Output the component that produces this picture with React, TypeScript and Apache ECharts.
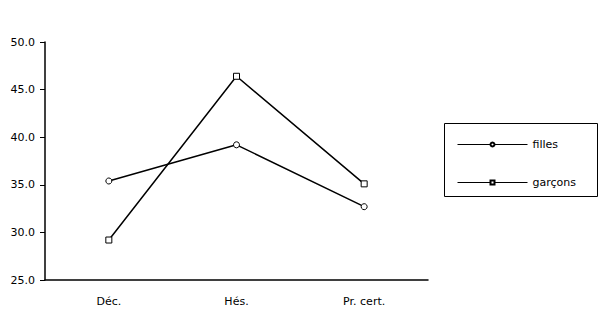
import React, { useEffect, useRef } from "react";
import * as echarts from "echarts";

const categories = ["Déc.", "Hés.", "Pr. cert."];
const filles = [35.4, 39.2, 32.7];
const garcons = [29.2, 46.4, 35.1];
const yMin = 25;
const yMax = 50;
const yInterval = 5;

export default function App() {
  const ref = useRef<HTMLDivElement>(null);
  useEffect(() => {
    if (!ref.current) return;
    const chart = echarts.init(ref.current, undefined, { renderer: "svg" });
    const font = "DejaVu Sans, Arial, sans-serif";
    chart.setOption({
      animation: false,
      backgroundColor: "#fff",
      textStyle: { fontFamily: font },
      grid: { left: 45, top: 42, right: 186, bottom: 47 },
      xAxis: {
        type: "category",
        data: categories,
        boundaryGap: true,
        axisLine: { lineStyle: { color: "#000", width: 1.5 } },
        axisTick: { show: false },
        axisLabel: { color: "#000", fontSize: 11, fontFamily: font, margin: 16 },
      },
      yAxis: {
        type: "value",
        min: yMin,
        max: yMax,
        interval: yInterval,
        axisLine: { show: true, lineStyle: { color: "#000", width: 1.5 } },
        axisTick: { show: true, length: 5, lineStyle: { color: "#000" } },
        splitLine: { show: false },
        axisLabel: {
          color: "#000",
          fontSize: 11,
          fontFamily: font,
          margin: 10,
          formatter: (v: number) => v.toFixed(1),
        },
      },
      legend: {
        orient: "vertical",
        left: 457,
        top: 139,
        padding: 0,
        itemWidth: 70,
        itemHeight: 5,
        itemGap: 27,
        textStyle: { color: "#000", fontSize: 11, fontFamily: font },
        lineStyle: { width: 1 },
        data: ["filles", "garçons"],
      },
      graphic: [
        {
          type: "rect",
          shape: { x: 444.5, y: 123.5, width: 153, height: 73 },
          style: { fill: "none", stroke: "#000", lineWidth: 1 },
          z: 0,
        },
      ],
      series: [
        {
          name: "filles",
          type: "line",
          data: filles,
          symbol: "circle",
          symbolSize: 6,
          lineStyle: { color: "#000", width: 1.5 },
          itemStyle: { color: "#fff", borderColor: "#000", borderWidth: 1 },
        },
        {
          name: "garçons",
          type: "line",
          data: garcons,
          symbol: "rect",
          symbolSize: 6,
          lineStyle: { color: "#000", width: 1.5 },
          itemStyle: { color: "#fff", borderColor: "#000", borderWidth: 1 },
        },
      ],
    });
    return () => chart.dispose();
  }, []);
  return <div ref={ref} style={{ width: 614, height: 327, position: "absolute", left: 0, top: 0 }} />;
}
